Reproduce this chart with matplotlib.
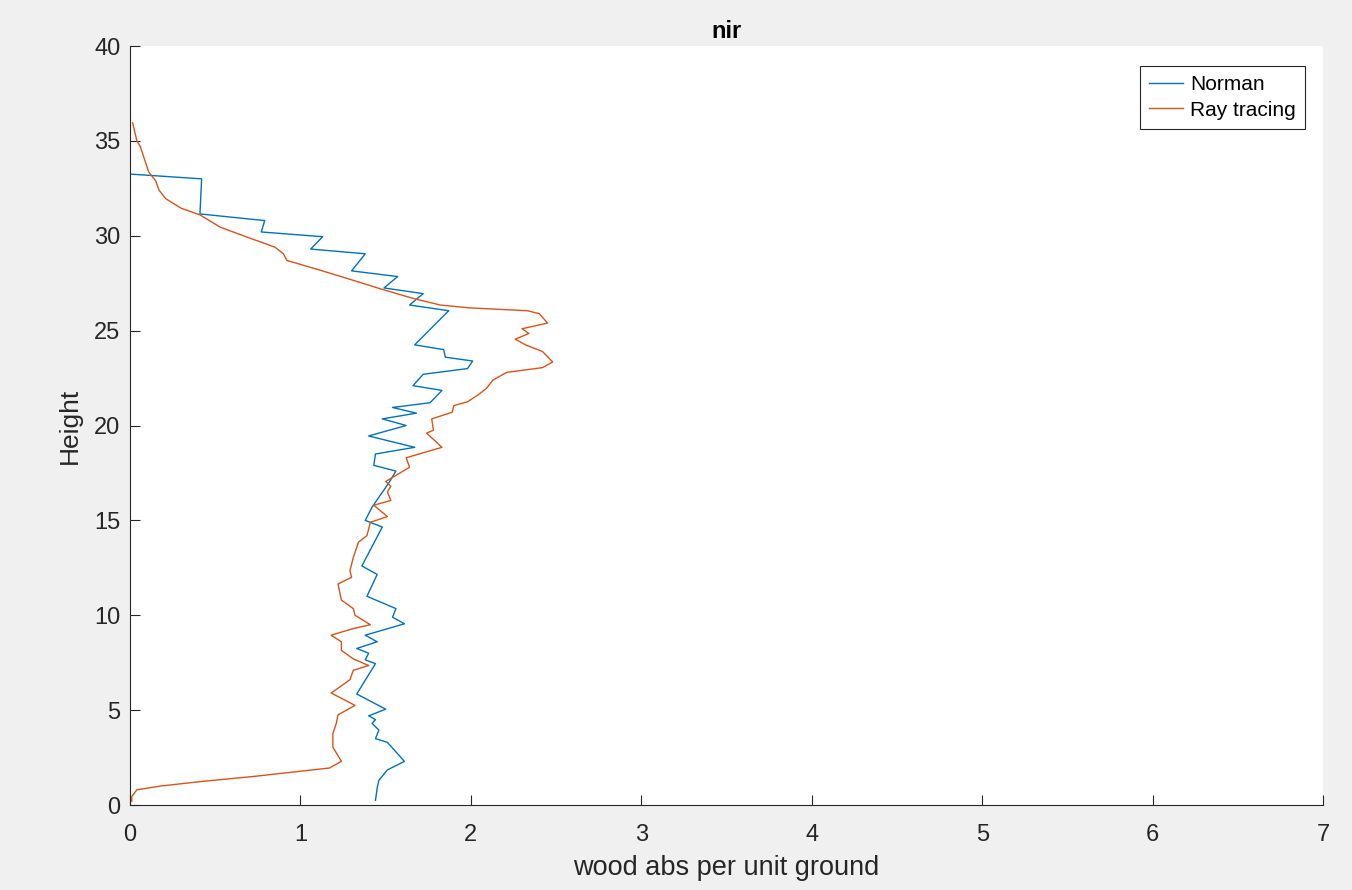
import matplotlib
matplotlib.use("Agg")
import matplotlib.pyplot as plt

plt.rcParams['font.family'] = ['Liberation Sans', 'DejaVu Sans']

# Norman model profile (absorption, height)
norman_x = [0.00, 0.00, 0.42, 0.41, 0.79, 0.77, 1.13, 1.06, 1.38, 1.30, 1.57, 1.49,
            1.72, 1.64, 1.87, 1.67, 1.84, 1.85, 2.01, 1.98, 1.72, 1.66, 1.83, 1.76,
            1.54, 1.68, 1.48, 1.62, 1.40, 1.67, 1.44, 1.43, 1.56, 1.52, 1.42, 1.38,
            1.48, 1.36, 1.45, 1.39, 1.56, 1.54, 1.61, 1.38, 1.45, 1.33, 1.40, 1.38,
            1.44, 1.33, 1.50, 1.40, 1.44, 1.42, 1.46, 1.44, 1.51, 1.61, 1.51, 1.46,
            1.45, 1.44]
norman_y = [35.5, 33.25, 33.0, 31.15, 30.8, 30.2, 29.95, 29.3, 29.05, 28.15, 27.85, 27.25,
            26.95, 26.35, 26.05, 24.25, 24.0, 23.6, 23.4, 23.0, 22.7, 22.1, 21.85, 21.2,
            20.95, 20.65, 20.35, 20.0, 19.45, 18.85, 18.5, 17.9, 17.6, 17.0, 15.7, 15.0,
            14.65, 12.6, 12.15, 11.0, 10.35, 9.9, 9.55, 8.95, 8.6, 8.25, 8.0, 7.65,
            7.45, 5.85, 5.05, 4.7, 4.5, 4.3, 3.95, 3.5, 3.3, 2.3, 1.85, 1.3,
            0.9, 0.25]

# Ray tracing profile (absorption, height)
ray_x = [0.015, 0.04, 0.06, 0.11, 0.15, 0.17, 0.21, 0.30, 0.41, 0.53, 0.68, 0.85,
         0.90, 0.92, 1.11, 1.31, 1.47, 1.66, 1.82, 1.99, 2.33, 2.40, 2.45, 2.30,
         2.34, 2.26, 2.32, 2.42, 2.48, 2.42, 2.21, 2.13, 2.09, 2.04, 1.98, 1.90,
         1.89, 1.77, 1.78, 1.74, 1.83, 1.62, 1.64, 1.50, 1.53, 1.51, 1.53, 1.43,
         1.51, 1.41, 1.39, 1.34, 1.31, 1.29, 1.30, 1.22, 1.24, 1.31, 1.32, 1.41,
         1.31, 1.18, 1.24, 1.24, 1.31, 1.40, 1.31, 1.29, 1.18, 1.32, 1.22, 1.21,
         1.19, 1.19, 1.24, 1.17, 0.72, 0.43, 0.18, 0.04, 0.01, 0.01]
ray_y = [35.95, 35.0, 34.7, 33.35, 32.9, 32.4, 31.95, 31.45, 31.1, 30.45, 29.95, 29.4,
         29.05, 28.7, 28.2, 27.65, 27.2, 26.7, 26.35, 26.2, 26.05, 25.9, 25.4, 25.1,
         24.85, 24.55, 24.25, 23.9, 23.35, 23.05, 22.8, 22.4, 21.95, 21.6, 21.25, 21.05,
         20.7, 20.35, 19.75, 19.6, 18.85, 18.3, 17.8, 17.05, 16.8, 16.5, 16.05, 15.8,
         15.2, 14.9, 14.2, 13.85, 13.05, 12.35, 12.0, 11.65, 10.8, 10.35, 10.0, 9.5,
         9.3, 8.95, 8.6, 8.15, 7.7, 7.35, 7.1, 6.6, 5.9, 5.25, 4.75, 4.3,
         3.75, 3.05, 2.3, 1.95, 1.5, 1.25, 1.0, 0.8, 0.45, 0.2]

fig = plt.figure(figsize=(13.52, 8.90), dpi=100, facecolor='#F0F0F0')
ax = fig.add_axes([0.0962, 0.0955, 0.8824, 0.8528])
ax.set_facecolor('white')

ax.plot(norman_x, norman_y, color='#0072BD', lw=1.0, label='Norman')
ax.plot(ray_x, ray_y, color='#D95319', lw=1.0, label='Ray tracing')

ax.set_xlim(0, 7)
ax.set_ylim(0, 40)
ax.set_xticks(range(0, 8))
ax.set_yticks(range(0, 41, 5))

for side in ['top', 'right']:
    ax.spines[side].set_visible(False)
for side in ['left', 'bottom']:
    ax.spines[side].set_color('#262626')
    ax.spines[side].set_linewidth(0.8)
ax.tick_params(direction='in', length=7, width=0.8, colors='#262626', labelsize=17)
ax.tick_params(axis='x', pad=14)
ax.tick_params(axis='y', pad=7)

ax.set_title('nir', fontsize=17, fontweight='bold', pad=6)
ax.set_xlabel('wood abs per unit ground', fontsize=19.5, color='#262626', labelpad=6)
ax.set_ylabel('Height', fontsize=19, color='#262626', labelpad=9)

leg = ax.legend(loc='upper right', bbox_to_anchor=(0.985, 0.9736), borderaxespad=0,
                fontsize=15, fancybox=False, framealpha=1, edgecolor='#262626',
                handlelength=1.6, handletextpad=0.35, borderpad=0.45,
                labelspacing=0.3)
leg.get_frame().set_linewidth(0.8)

fig.savefig('out.png', dpi=100, facecolor=fig.get_facecolor())
